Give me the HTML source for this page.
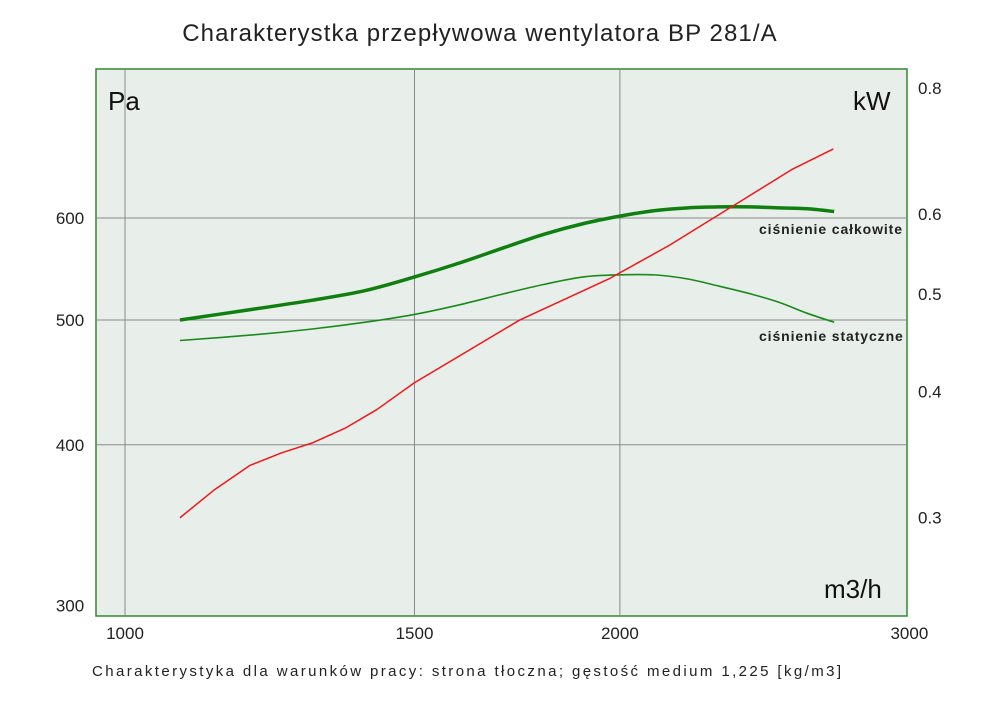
<!DOCTYPE html>
<html><head><meta charset="utf-8"><style>
body{margin:0;background:#fff;width:1000px;height:706px;overflow:hidden}
svg{font-family:"Liberation Sans","DejaVu Sans",sans-serif}
</style></head><body>
<svg id="chart" width="1000" height="706">
<text x="480" y="41" text-anchor="middle" font-size="24" letter-spacing="1.1" fill="#222">Charakterystka przepływowa wentylatora BP 281/A</text>
<rect x="96" y="69" width="811" height="547" fill="#e8eee9" stroke="#2f8a2f" stroke-width="1.5"/>
<g id="grid"></g>
<g id="series"></g>
<g id="labels"></g>
<text x="108" y="110" font-size="26" fill="#111">Pa</text>
<text x="853" y="110" font-size="26" fill="#111">kW</text>
<text x="824" y="598" font-size="26" fill="#111">m3/h</text>
<text x="759" y="234" font-size="14" letter-spacing="0.9" font-weight="bold" fill="#222">ciśnienie całkowite</text>
<text x="759" y="341" font-size="14" letter-spacing="0.9" font-weight="bold" fill="#222">ciśnienie statyczne</text>
<text x="92" y="676" font-size="15" letter-spacing="2.4" fill="#222">Charakterystyka dla warunków pracy: strona tłoczna; gęstość medium 1,225 [kg/m3]</text>
</svg>
<script>
const xTicks=[1000,1500,2000,3000];
const yTicksLeft=[300,400,500,600];
const yTicksRight=[0.3,0.4,0.5,0.6,0.8];
const flowQ=[1080,1200,1300,1400,1500,1600,1700,1800,1900,2000,2100,2200,2300,2400,2500,2600,2700];
const totalPressure=[500,510,518,527,540,554,569,583,594,602,608,611,612,612,611,610,607];
const staticPressure=[482,487,492,498,505,514,524,533,540,542,542,538,531,524,516,506,498];
const powerQ=[1080,1134,1191,1246,1301,1361,1423,1499,1738,1972,2145,2339,2544,2697];
const powerKW=[0.300,0.320,0.338,0.348,0.356,0.368,0.384,0.408,0.471,0.518,0.559,0.610,0.664,0.696];

const NS="http://www.w3.org/2000/svg";
const X=q=>125+1644*Math.log10(q/1000);
const YL=p=>218-1288*Math.log10(p/600);
const YR=k=>214-1009*Math.log10(k/0.6);
function mk(tag,attrs,parent){const e=document.createElementNS(NS,tag);for(const k in attrs)e.setAttribute(k,attrs[k]);parent.appendChild(e);return e;}
const grid=document.getElementById('grid'),labels=document.getElementById('labels'),series=document.getElementById('series');
xTicks.forEach(t=>{const x=X(t);
 if(t<3000){const l=mk('line',{x1:x,x2:x,y1:69,y2:616,stroke:'#8a8a8a','stroke-width':1},grid);
 
 }
 const tx=mk('text',{x:x,y:639,'text-anchor':'middle','font-size':17,fill:'#222'},labels);tx.textContent=t;
 
 });
yTicksLeft.forEach(t=>{const y=YL(t);
 if(t>300){const l=mk('line',{x1:96,x2:907,y1:y,y2:y,stroke:'#8a8a8a','stroke-width':1},grid);
 
 }
 const tx=mk('text',{x:70,y:y+6,'text-anchor':'middle','font-size':17,fill:'#222'},labels);tx.textContent=t;
 
 });
yTicksRight.forEach(t=>{const y=YR(t);
 const tx=mk('text',{x:918,y:y+6,'font-size':17,fill:'#222'},labels);tx.textContent=t;
 
 });
function smooth(pts){let d=`M${pts[0][0]},${pts[0][1]}`;
 for(let i=0;i<pts.length-1;i++){const p0=pts[i-1]||pts[i],p1=pts[i],p2=pts[i+1],p3=pts[i+2]||p2;
  d+=` C${p1[0]+(p2[0]-p0[0])/6},${p1[1]+(p2[1]-p0[1])/6} ${p2[0]-(p3[0]-p1[0])/6},${p2[1]-(p3[1]-p1[1])/6} ${p2[0]},${p2[1]}`;}
 return d;}
const sp=mk('path',{d:smooth(flowQ.map((q,i)=>[X(q),YL(staticPressure[i])])),fill:'none',stroke:'#1a8a1a','stroke-width':1.6},series);


const tp=mk('path',{d:smooth(flowQ.map((q,i)=>[X(q),YL(totalPressure[i])])),fill:'none',stroke:'#0f7f0f','stroke-width':3.5},series);


const pw=mk('path',{d:'M'+powerQ.map((q,i)=>X(q)+','+YR(powerKW[i])).join(' L'),fill:'none',stroke:'#f01818','stroke-width':1.5,'stroke-linejoin':'round'},series);


</script>
</body></html>
